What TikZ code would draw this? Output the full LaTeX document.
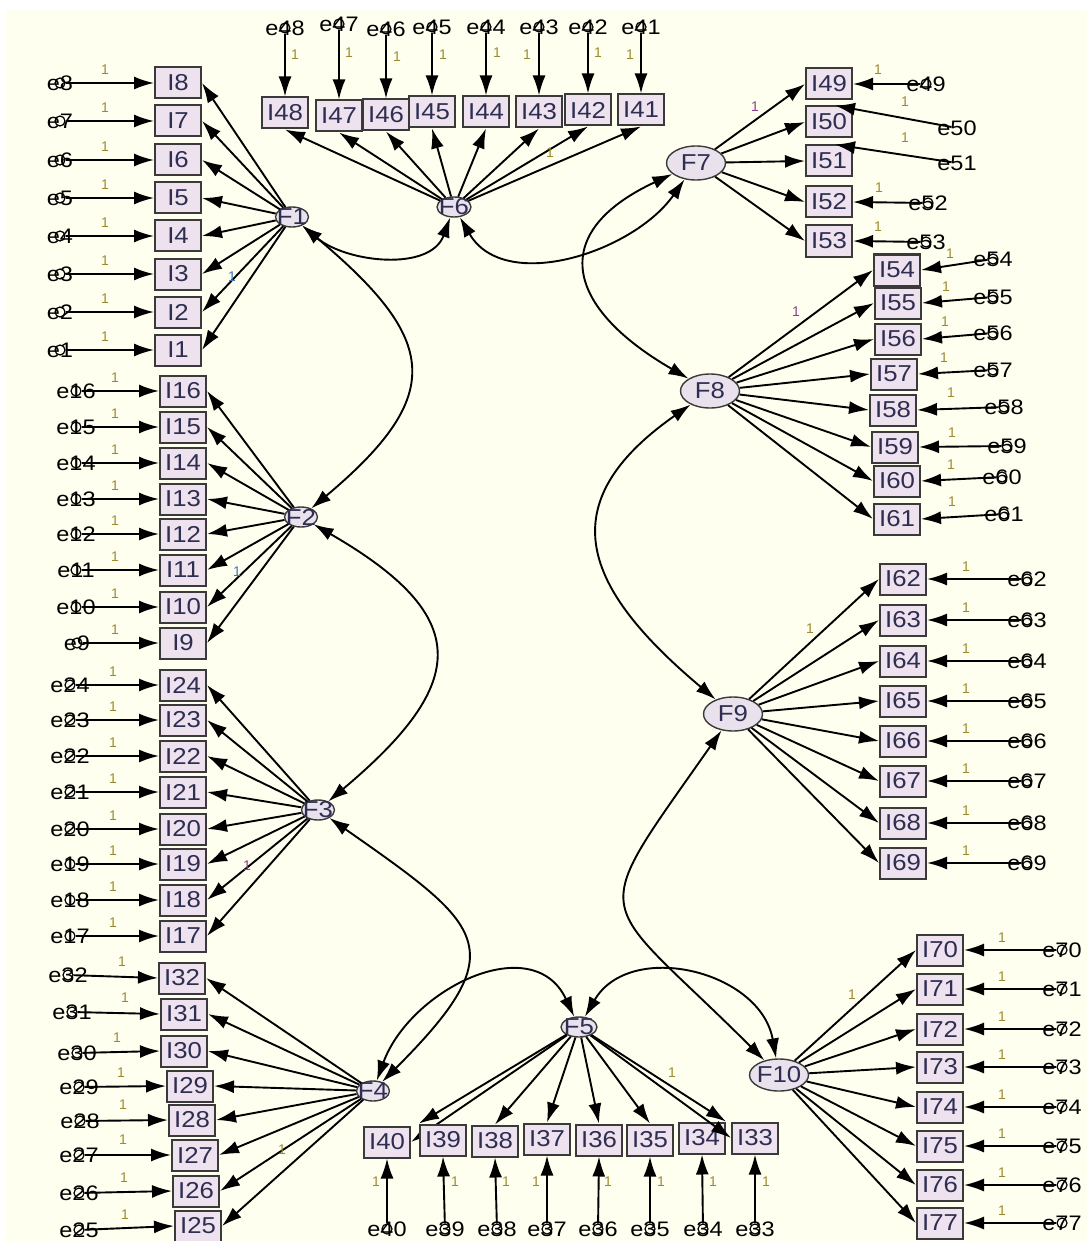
\documentclass[tikz,border=0pt]{standalone}
\usepackage{fontspec}
\setmainfont{Liberation Sans}
\newfontfamily\amos[FakeStretch=1.12]{Liberation Sans}
\usetikzlibrary{arrows.meta,shapes.geometric}
\definecolor{bgc}{HTML}{FFFFF0}
\definecolor{boxfill}{HTML}{EEE2EE}
\definecolor{latfill}{HTML}{E9E1EB}
\definecolor{boxline}{HTML}{3A3A3A}
\definecolor{txt}{HTML}{2E2E52}
\definecolor{olivec}{HTML}{9C8B2E}
\definecolor{purplec}{HTML}{8E3C8E}
\definecolor{bluec}{HTML}{3C78B4}
\begin{document}
\begin{tikzpicture}[x=0.5pt,y=0.5pt,
  box/.style={draw=boxline,line width=1pt,fill=boxfill,minimum width=23pt,minimum height=15.5pt,inner sep=0pt,font=\amos\fontsize{11.5}{11.5}\selectfont,text=txt},
  lat/.style={ellipse,draw=boxline,line width=0.7pt,fill=latfill,inner sep=0pt,minimum width=16.5pt,minimum height=10pt},
  latbig/.style={lat,minimum width=29.5pt,minimum height=17pt},
  ftxt/.style={font=\amos\fontsize{11.5}{11.5}\selectfont,text=txt,inner sep=0pt},
  err/.style={circle,draw=black,line width=0.6pt,minimum size=5pt,inner sep=0pt},
  elab/.style={font=\amos\fontsize{10.5}{10.5}\selectfont,text=black,inner sep=0pt},
  one/.style={font=\fontsize{7}{7}\selectfont,text=olivec,inner sep=0pt},
  load/.style={line width=0.95pt,-{Latex[length=10pt,width=6.5pt]}},
  cov/.style={line width=0.95pt,{Latex[length=10pt,width=6.5pt]}-{Latex[length=10pt,width=6.5pt]}}
]
\useasboundingbox (0,0) rectangle (1087,-1241);
\fill[white] (0,0) rectangle (1087,-1241);
\fill[bgc] (6,-10) rectangle (1087,-1241);

% factors
\node[lat] (F1) at (292,-217) {};
\node[lat] (F2) at (301,-517) {};
\node[lat] (F3) at (318,-810) {};
\node[lat] (F4) at (373,-1091) {};
\node[lat,minimum width=18pt] (F5) at (579,-1027) {};
\node[lat,minimum width=17pt] (F6) at (454,-207) {};
\node[latbig] (F7) at (696,-163) {};
\node[latbig] (F8) at (710,-391) {};
\node[latbig] (F9) at (733,-714) {};
\node[latbig,minimum height=16pt] (F10) at (779,-1075) {};
\foreach \f in {1,...,10}{\node[ftxt] (tF\f) at (F\f) {F\f};}

% F1 group
\foreach \n/\y in {8/83,7/121,6/160,5/198,4/236,3/274,2/312,1/350}{
  \node[box] (I\n) at (178,-\y) {I\n};
  \node[err] (e\n) at (60,-\y) {};
  \node[elab] (le\n) at (60,-\y) {e\n};
  \node[one] (o\n) at (105,-\y+13) {1};
  \draw[load] (e\n) -- (I\n.west);
  \draw[load] (F1) -- (I\n.east);
}
% F2 group
\foreach \n/\y/\ex in {16/391/76,15/427/76,14/463/76,13/499/76,12/534/76,11/570/76,10/607/76,9/643/77}{
  \node[box] (I\n) at (183,-\y) {I\n};
  \node[err] (e\n) at (\ex,-\y) {};
  \node[elab] (le\n) at (\ex,-\y) {e\n};
  \node[one] (o\n) at (115,-\y+13) {1};
  \draw[load] (e\n) -- (I\n.west);
  \draw[load] (F2) -- (I\n.east);
}
% F3 group
\foreach \n/\y in {24/685,23/720,22/756,21/792,20/829,19/864,18/900,17/936}{
  \node[box] (I\n) at (183,-\y) {I\n};
  \node[err] (e\n) at (70,-\y) {};
  \node[elab] (le\n) at (70,-\y) {e\n};
  \node[one] (o\n) at (113,-\y+13) {1};
  \draw[load] (e\n) -- (I\n.west);
  \draw[load] (F3) -- (I\n.east);
}
% F4 group
\foreach \n/\bx/\by/\ex/\ey/\ox/\oy in {32/182/978/68/975/122/962,31/184/1014/72/1012/125/998,30/184/1051/77/1053/117/1038,29/190/1086/79/1087/121/1073,28/192/1120/80/1121/123/1105,27/195/1155/79/1155/123/1140,26/196/1191/79/1193/124/1178,25/198/1226/79/1230/125/1215}{
  \node[box] (I\n) at (\bx,-\by) {I\n};
  \node[err] (e\n) at (\ex,-\ey) {};
  \node[elab] (le\n) at (\ex,-\ey) {e\n};
  \node[one] (o\n) at (\ox,-\oy) {1};
  \draw[load] (e\n) -- (I\n.west);
  \draw[load] (F4) -- (I\n.east);
}
% F6 group (top)
\foreach \n/\bx/\by/\ey/\ox/\oy in {48/285/113/28/295/55,47/339/116/24/349/53,46/386/115/29/397/57,45/432/112/27/443/55,44/486/112/27/497/53,43/539/112/27/527/55,42/588/110/27/598/53,41/641/110/27/630/55}{
  \node[box] (I\n) at (\bx,-\by) {I\n};
  \node[err] (e\n) at (\bx,-\ey) {};
  \node[elab] (le\n) at (\bx,-\ey) {e\n};
  \node[one] (o\n) at (\ox,-\oy) {1};
  \draw[load] (e\n) -- (I\n.north);
  \draw[load] (F6) -- (I\n.south);
}
% F5 group (bottom)
\foreach \n/\bx/\by/\ex/\ox/\anc in {40/387/1142/387/376/east,39/443/1140/445/455/north west,38/495/1141/497/506/north,37/547/1139/547/536/north,36/599/1140/598/608/north,35/650/1140/650/661/north,34/702/1138/703/713/north east,33/755/1138/755/766/west}{
  \node[box] (I\n) at (\bx,-\by) {I\n};
  \node[err] (e\n) at (\ex,-1229) {};
  \node[elab] (le\n) at (\ex,-1229) {e\n};
  \node[one] (o\n) at (\ox,-1182) {1};
  \draw[load] (e\n) -- (I\n.south);
  \draw[load] (F5) -- (I\n.\anc);
}
% F7 group
\foreach \n/\y/\ex/\ey/\ox/\oy/\anc/\dr in {49/84/926/84/878/70/east/black,50/122/957/128/905/102/70/none,51/161/957/163/905/138/70/none,52/202/928/203/879/188/east/black,53/241/926/242/878/227/east/black}{
  \node[box] (I\n) at (829,-\y) {I\n};
  \node[err,draw=\dr] (e\n) at (\ex,-\ey) {};
  \node[elab] (le\n) at (\ex,-\ey) {e\n};
  \node[one] (o\n) at (\ox,-\oy) {1};
  \draw[load] (e\n) -- (I\n.\anc);
  \draw[load] (F7) -- (I\n.west);
}
% F8 group
\foreach \n/\bx/\by/\ex/\ey/\ox/\oy in {54/897/270/993/259/950/254,55/898/303/993/297/946/287,56/898/339/993/333/945/322,57/894/374/993/370/944/358,58/893/410/1004/407/951/393,59/895/447/1007/446/952/433,60/897/481/1002/477/951/465,61/897/519/1004/514/952/502}{
  \node[box] (I\n) at (\bx,-\by) {I\n};
  \node[err] (e\n) at (\ex,-\ey) {};
  \node[elab] (le\n) at (\ex,-\ey) {e\n};
  \node[one] (o\n) at (\ox,-\oy) {1};
  \draw[load] (e\n) -- (I\n.east);
  \draw[load] (F8) -- (I\n.west);
}
% F9 group
\foreach \n/\y in {62/579,63/620,64/661,65/701,66/741,67/781,68/823,69/863}{
  \node[box] (I\n) at (903,-\y) {I\n};
  \node[err] (e\n) at (1027,-\y) {};
  \node[elab] (le\n) at (1027,-\y) {e\n};
  \node[one] (o\n) at (966,-\y+12) {1};
  \draw[load] (e\n) -- (I\n.east);
  \draw[load] (F9) -- (I\n.west);
}
% F10 group
\foreach \n/\y in {70/950,71/989,72/1029,73/1067,74/1107,75/1146,76/1185,77/1223}{
  \node[box] (I\n) at (940,-\y) {I\n};
  \node[err] (e\n) at (1062,-\y) {};
  \node[elab] (le\n) at (1062,-\y) {e\n};
  \node[one] (o\n) at (1002,-\y+12) {1};
  \draw[load] (e\n) -- (I\n.east);
  \draw[load] (F10) -- (I\n.west);
}

% loading labels
\node[one,text=bluec] (l1) at (232,-277) {1};
\node[one,text=bluec] (l2) at (237,-572) {1};
\node[one,text=purplec] (l3) at (247,-866) {1};
\node[one] (l4) at (282,-1150) {1};
\node[one] (l5) at (672,-1073) {1};
\node[one] (l6) at (550,-153) {1};
\node[one,text=purplec] (l7) at (755,-107) {1};
\node[one,text=purplec] (l8) at (796,-312) {1};
\node[one] (l9) at (810,-629) {1};
\node[one] (l10) at (852,-995) {1};

% covariances
\draw[cov] (F1) to[out=-40,in=-110,looseness=1] (F6);
\draw[cov] (F1) to[out=-40,in=40,looseness=1.6] (F2);
\draw[cov] (F2) to[out=-30,in=40,looseness=1.7] (F3);
\draw[cov] (F3) to[out=-35,in=45,looseness=1.8] (F4);
\draw[cov] (F4) to[out=70,in=115,looseness=1.2] (F5);
\draw[cov] (F5) to[out=60,in=100,looseness=1.17] (F10);
\draw[cov] (F9) to[out=-125,in=135,looseness=1.85] (F10);
\draw[cov] (F8) to[out=-145,in=140,looseness=1.5] (F9);
\draw[cov] (F7) to[out=-155,in=150,looseness=1.75] (F8);
\draw[cov] (F6) to[out=-60,in=-125,looseness=1.0] (F7);
\end{tikzpicture}
\end{document}
